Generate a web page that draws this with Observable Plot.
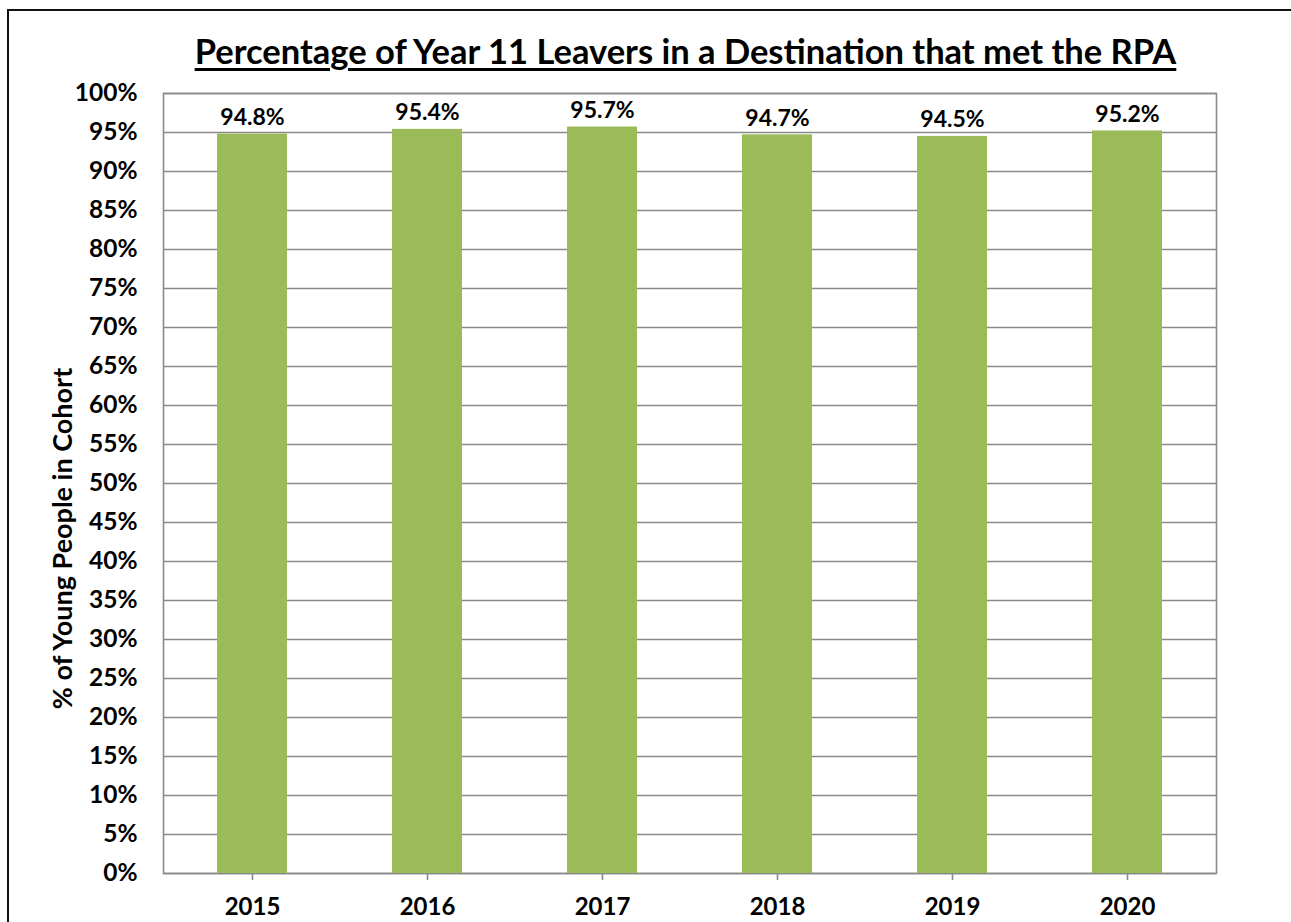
<!DOCTYPE html>
<html>
<head>
<meta charset="utf-8">
<script src="https://cdn.jsdelivr.net/npm/d3@7"></script>
<script src="https://cdn.jsdelivr.net/npm/@observablehq/plot@0.6"></script>
<style>
  html, body { margin: 0; padding: 0; background: #fff; overflow: hidden; width: 1291px; height: 922px; }
  #border { position: absolute; left: 7px; top: 9px; width: 1400px; height: 1000px; border: 2px solid #111; box-sizing: border-box; }
  #title { position: absolute; left: 0; width: 1371px; top: 34px; text-align: center; white-space: nowrap;
           font-family: Lato, sans-serif; font-weight: bold; font-size: 34.5px; color: #000;
           text-decoration: underline; text-decoration-thickness: 3px; text-underline-offset: 4px; line-height: 1; }
  #chart { position: absolute; left: 0; top: 0; }
</style>
</head>
<body>
<div id="border"></div>
<div id="title">Percentage of Year 11 Leavers in a Destination that met the RPA</div>
<div id="chart"></div>
<script>
const years = ["2015", "2016", "2017", "2018", "2019", "2020"];
const values = [94.8, 95.4, 95.7, 94.7, 94.5, 95.2];
const yTicks = d3.range(0, 101, 5);
const yAxisTitle = "% of Young People in Cohort";

const data = years.map((year, i) => ({year, value: values[i]}));

const chart = Plot.plot({
  width: 1291,
  height: 922,
  marginLeft: 163,
  marginRight: 75,
  marginTop: 93,
  marginBottom: 49,
  style: {fontFamily: "Lato, sans-serif", fontWeight: "bold", fontSize: "24px", color: "#000", background: "transparent", overflow: "visible"},
  x: {domain: years, paddingInner: 0.6, paddingOuter: 0.3},
  y: {domain: [0, 100]},
  marks: [
    Plot.ruleY(yTicks, {stroke: "#8a8a8a", strokeWidth: 1.6}),
    Plot.frame({stroke: "#8a8a8a", strokeWidth: 1.6}),
    Plot.barY(data, {x: "year", y: "value", fill: "#9BBB59"}),
    Plot.text(data, {x: "year", y: "value", text: d => d.value.toFixed(1) + "%", lineAnchor: "bottom", dy: -9, fontSize: 23, fontWeight: "bold", fill: "#000"}),
    Plot.axisX({tickSize: 7, tickPadding: 17, stroke: "#8a8a8a", strokeWidth: 1.6, label: null, fill: "#000", fontSize: 24}),
    Plot.axisY({ticks: yTicks, tickSize: 0, tickPadding: 26, tickFormat: d => d + "%", label: null, fontSize: 24.5, fill: "#000"}),
    Plot.text([yAxisTitle], {frameAnchor: "left", rotate: -90, dx: -111, dy: 55, lineAnchor: "top", textAnchor: "middle", fontSize: 27, fontWeight: "bold", fill: "#000"})
  ]
});
document.getElementById("chart").appendChild(chart);
</script>
</body>
</html>
